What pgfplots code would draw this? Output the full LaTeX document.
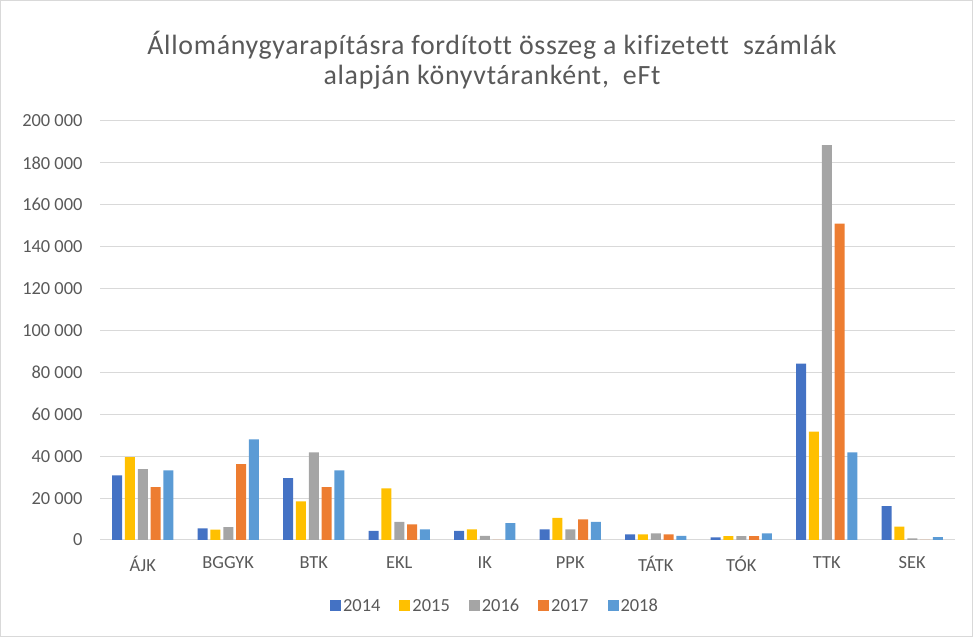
\documentclass[border=0pt]{standalone}
\usepackage{pgfplots}
\pgfplotsset{compat=1.18}
\usepackage{fontspec}
\setmainfont[Ligatures=NoCommon]{Carlito}
\newfontfamily\titlefont[LetterSpace=2.5,Ligatures=NoCommon]{Carlito}
\definecolor{cA}{HTML}{4472C4}
\definecolor{cB}{HTML}{FFC000}
\definecolor{cC}{HTML}{A5A5A5}
\definecolor{cD}{HTML}{ED7D31}
\definecolor{cE}{HTML}{5B9BD5}
\definecolor{gridgray}{HTML}{D9D9D9}
\definecolor{textgray}{HTML}{595959}
\begin{document}
\begin{tikzpicture}[x=1bp,y=1bp]
\path[draw=gridgray, line width=1bp] (0.5,0.5) rectangle (972.5,636.5);
\node[align=center, font=\titlefont\fontsize{28}{30.5}\selectfont, text=textgray] at (492,577) {Állománygyarapításra fordított összeg a kifizetett\ \ számlák\\alapján könyvtáranként,\ \ eFt};
\begin{axis}[
  at={(100bp,97bp)}, anchor=south west,
  width=855bp, height=419bp, scale only axis,
  ybar=2.8bp, bar width=10bp,
  xmin=-0.5, xmax=9.5, ymin=0, ymax=200000,
  ytick={0,20000,40000,60000,80000,100000,120000,140000,160000,180000,200000},
  yticklabels={0,20 000,40 000,60 000,80 000,100 000,120 000,140 000,160 000,180 000,200 000},
  xtick={0,...,9},
  xticklabels={ÁJK,BGGYK,BTK,EKL,IK,PPK,TÁTK,TÓK,TTK,SEK},
  scaled y ticks=false,
  ymajorgrids, grid style={draw=gridgray, line width=1bp},
  axis x line*=bottom, axis y line*=left,
  x axis line style={draw=gridgray, line width=1bp, -},
  y axis line style={draw=none},
  major tick length=0pt, tick style={draw=none},
  y tick label style={font=\fontsize{18.5}{20}\selectfont, text=textgray, xshift=-14bp},
  x tick label style={font=\fontsize{18.5}{20}\selectfont, text=textgray, yshift=-13bp},
  legend style={at={(0.462,-0.1575)}, anchor=center, draw=none, fill=none,
    legend columns=5, font=\fontsize{18.5}{20}\selectfont, text=textgray,
    /tikz/every even column/.append style={column sep=17bp}},
  legend image code/.code={\fill[#1,draw=none] (0bp,-5.5bp) rectangle (11bp,5.5bp);},
]
\addplot[fill=cA, draw=none] coordinates {(0,30800) (1,5600) (2,29500) (3,4400) (4,4400) (5,5100) (6,2700) (7,1300) (8,84200) (9,16200)};
\addplot[fill=cB, draw=none] coordinates {(0,39500) (1,4900) (2,18400) (3,24600) (4,5100) (5,10600) (6,2700) (7,1900) (8,51700) (9,6400)};
\addplot[fill=cC, draw=none] coordinates {(0,33800) (1,6200) (2,41800) (3,8700) (4,2000) (5,5100) (6,3200) (7,1900) (8,188500) (9,800)};
\addplot[fill=cD, draw=none] coordinates {(0,25200) (1,36200) (2,25200) (3,7500) (4,0) (5,9800) (6,2700) (7,1900) (8,151000) (9,0)};
\addplot[fill=cE, draw=none] coordinates {(0,33200) (1,48000) (2,33200) (3,5100) (4,8100) (5,8700) (6,2000) (7,3200) (8,41800) (9,1400)};
\legend{2014,2015,2016,2017,2018}
\end{axis}
\end{tikzpicture}
\end{document}
